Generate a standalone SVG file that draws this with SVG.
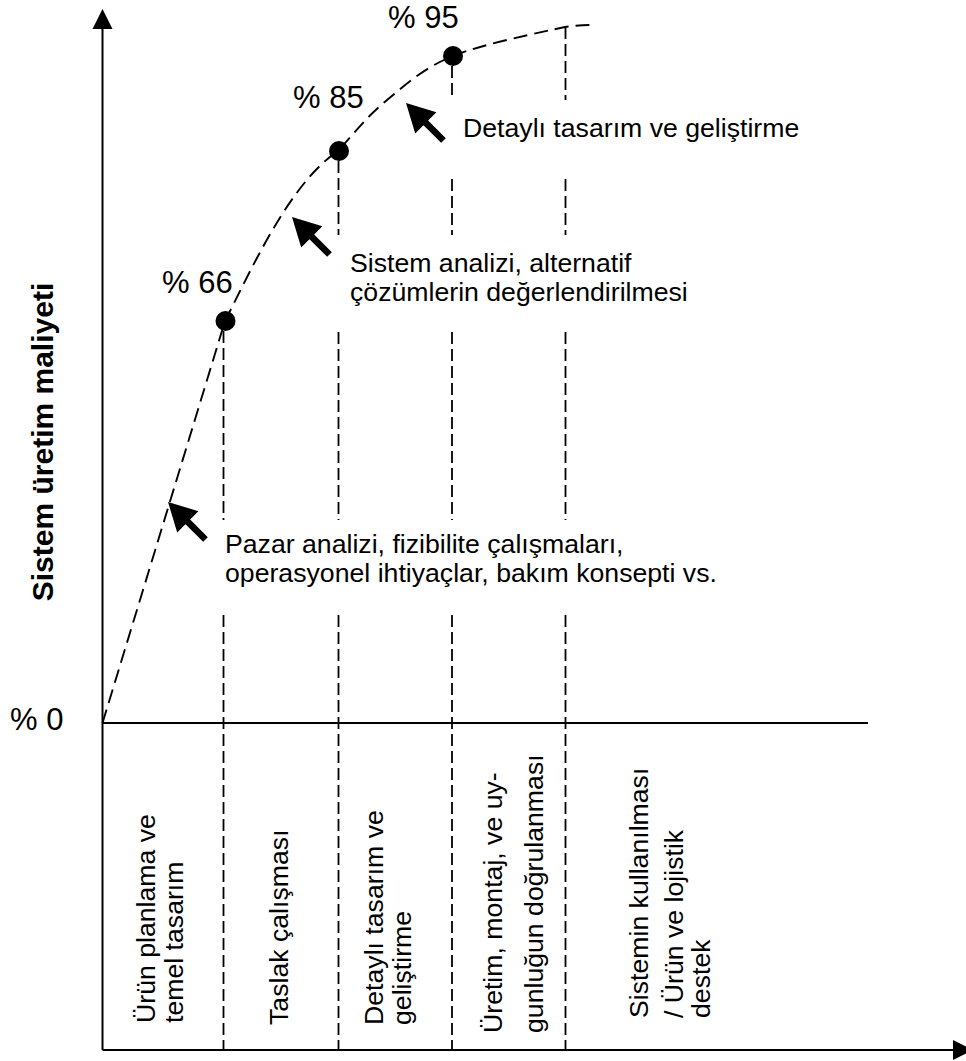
<svg xmlns="http://www.w3.org/2000/svg" width="966" height="1061" viewBox="0 0 966 1061">
<style>
.t{font-family:"Liberation Sans",Arial,sans-serif;font-size:26.67px;fill:#000}
.p{font-family:"Liberation Sans",Arial,sans-serif;font-size:31px;fill:#000}
.ax{stroke:#000;stroke-width:2;fill:none}
.ds{stroke:#000;stroke-width:1.8;fill:none;stroke-dasharray:12 5}
.cv{stroke:#000;stroke-width:1.9;fill:none;stroke-dasharray:14 7}
</style>
<defs>
<polygon id="blk" points="0,0 28,-15 28,-3.3 53,-3.3 53,3.3 28,3.3 28,15" fill="#000"/>
</defs>
<rect width="966" height="1061" fill="#fff"/>
<g id="axes">
<line class="ax" x1="102.5" y1="1050" x2="102.5" y2="27"/>
<polygon points="92.5,29 102.5,9 112.5,29" fill="#000"/>
<line class="ax" x1="102.5" y1="1050" x2="955" y2="1050"/>
<polygon points="953,1040 973,1050 953,1060" fill="#000"/>
<line class="ax" x1="102.5" y1="723" x2="868" y2="723"/>
</g>
<g id="connectors">
<path class="cv" d="M102.5,723 L225,321 C252,268 290,183 338,151 C357.5,129.3 367.8,115.8 387,100 C406.2,84.2 423.3,68.2 453,56 C482.7,43.8 541.5,32.2 565,27 C576,25.5 585,25 594,25"/>
<path class="ds" d="M223.5,331 V520 M223.5,615 V1050"/>
<path class="ds" d="M338.5,161 V235 M338.5,332 V520 M338.5,615 V1050"/>
<path class="ds" d="M452,66 V100 M452,179 V235 M452,332 V520 M452,615 V1050"/>
<path class="ds" d="M565.5,27 V100 M565.5,179 V235 M565.5,332 V520 M565.5,615 V1050"/>
</g>
<g id="dot66"><circle cx="225.5" cy="321" r="10"/><text class="p" x="162" y="293">% 66</text></g>
<g id="dot85"><circle cx="339" cy="151" r="10"/><text class="p" x="293" y="108">% 85</text></g>
<g id="dot95"><circle cx="453" cy="56" r="10"/><text class="p" x="388" y="28">% 95</text></g>
<g id="zero"><text class="p" x="10" y="730">% 0</text></g>
<g id="ylabel"><text transform="translate(53,442) rotate(-90)" text-anchor="middle" style="font-family:'Liberation Sans',Arial,sans-serif;font-size:30px;font-weight:bold">Sistem üretim maliyeti</text></g>
<g id="note-detay">
<use href="#blk" transform="translate(406,103) rotate(45)"/>
<text class="t" x="463" y="137">Detaylı tasarım ve geliştirme</text>
</g>
<g id="note-sistem">
<use href="#blk" transform="translate(292,217) rotate(45)"/>
<text class="t" x="350" y="272">Sistem analizi, alternatif</text>
<text class="t" x="350" y="301">çözümlerin değerlendirilmesi</text>
</g>
<g id="note-pazar">
<use href="#blk" transform="translate(168,502) rotate(45)"/>
<text class="t" x="225" y="553">Pazar analizi, fizibilite çalışmaları,</text>
<text class="t" x="225" y="582">operasyonel ihtiyaçlar, bakım konsepti vs.</text>
</g>
<g id="phase1">
<text class="t" transform="translate(155,1023) rotate(-90)">Ürün planlama ve</text>
<text class="t" transform="translate(183,1023) rotate(-90)">temel tasarım</text>
</g>
<g id="phase2">
<text class="t" transform="translate(288,1025) rotate(-90)">Taslak çalışması</text>
</g>
<g id="phase3">
<text class="t" transform="translate(383,1025) rotate(-90)">Detaylı tasarım ve</text>
<text class="t" transform="translate(411,1025) rotate(-90)">geliştirme</text>
</g>
<g id="phase4">
<text class="t" transform="translate(502,1033) rotate(-90)">Üretim, montaj, ve uy-</text>
<text class="t" transform="translate(543,1033) rotate(-90)">gunluğun doğrulanması</text>
</g>
<g id="phase5">
<text class="t" transform="translate(648,1018) rotate(-90)">Sistemin kullanılması</text>
<text class="t" transform="translate(683,1018) rotate(-90)">/ Ürün ve lojistik</text>
<text class="t" transform="translate(710,1018) rotate(-90)">destek</text>
</g>
</svg>
